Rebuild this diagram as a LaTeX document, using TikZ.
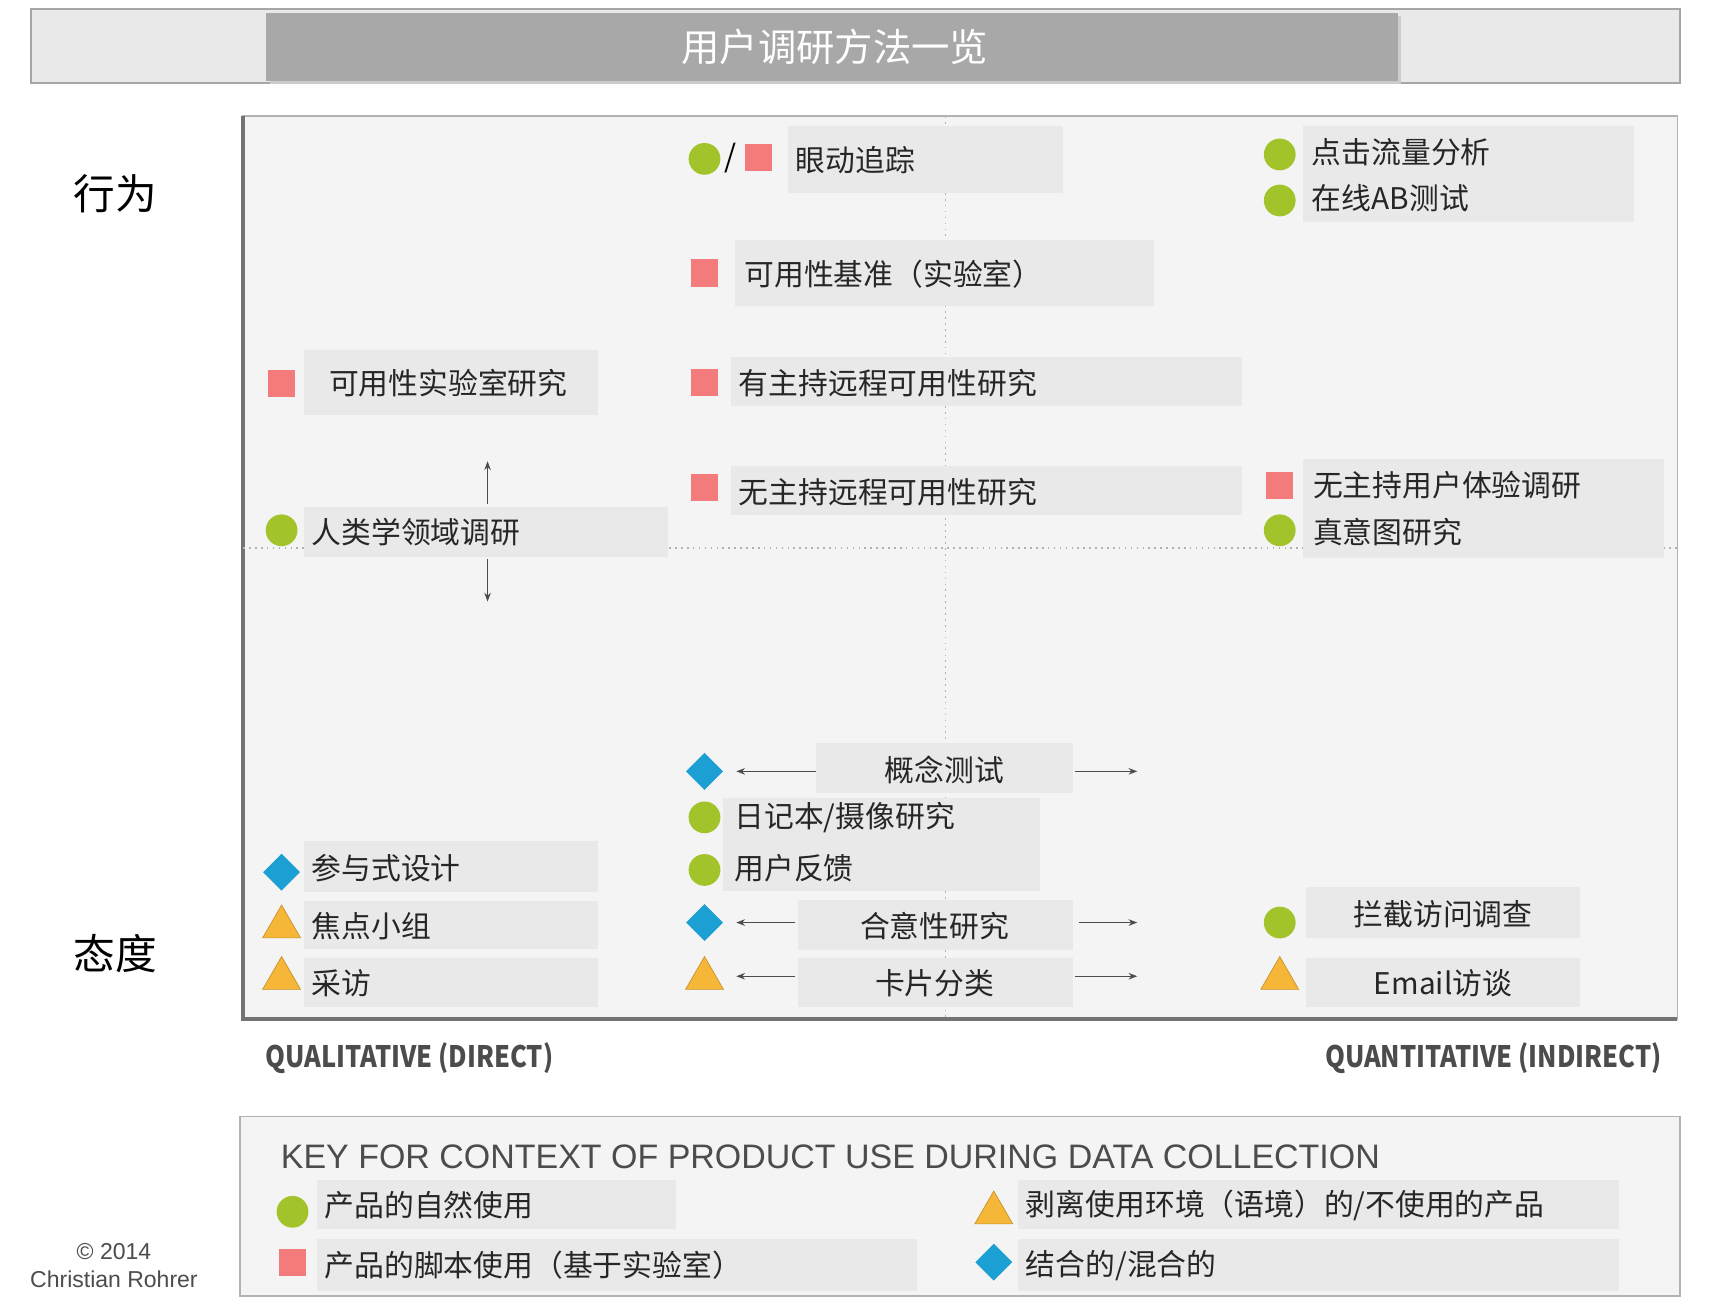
\documentclass[tikz,border=0pt]{standalone}
\usepackage{fontspec}
\setmainfont{Noto Sans CJK SC}
\newfontfamily\lsans{Liberation Sans}
\usetikzlibrary{shapes.geometric,arrows.meta}
\definecolor{gr}{HTML}{A2C42A}
\definecolor{rd}{HTML}{F47B7B}
\definecolor{bl}{HTML}{1C9FD3}
\definecolor{og}{HTML}{F6B637}
\definecolor{bx}{HTML}{E9E9E9}
\definecolor{pn}{HTML}{F4F4F4}
\tikzset{
 lb/.style={anchor=west,inner sep=0pt,font=\fontsize{13.6}{15}\selectfont,text=black!85},
 lc/.style={inner sep=0pt,font=\fontsize{13.6}{15}\selectfont,text=black!85},
 gc/.style={circle,fill=gr,minimum size=14.5pt,inner sep=0pt},
 rs/.style={rectangle,fill=rd,minimum size=12.5pt,inner sep=0pt},
 bd/.style={diamond,fill=bl,minimum size=17pt,inner sep=0pt},
 ot/.style={regular polygon,regular polygon sides=3,fill=og,draw=og!80!black,line width=0.3pt,minimum size=20pt,inner sep=0pt},
 ar/.style={-{Stealth[length=4pt,width=3pt]},line width=0.5pt,black!70},
}
\begin{document}
\begin{tikzpicture}[x=0.5pt,y=-0.5pt]
\useasboundingbox[fill=white] (0,0) rectangle (1568,1192);
% title
\draw[fill=bx,draw=black!35,line width=0.8pt] (28,8) rectangle (1533,76);
\fill[black!20] (246,15) rectangle (1279,77);
\fill[black!34] (243,12) rectangle (1276,74);
\node[text=white,font=\fontsize{17.5}{20}\selectfont] (title) at (762,43) {用户调研方法一览};
% panel
\draw[fill=pn,draw=black!30,line width=0.8pt] (222,106) rectangle (1531,930);
\draw[black!55,line width=1.6pt] (222,106) -- (222,930) -- (1531,930);
\draw[black!30,dotted,line width=0.7pt] (863,106) -- (863,930);
\draw[black!30,dotted,line width=0.7pt] (222,500) -- (1531,500);
\node[font=\fontsize{19}{22}\selectfont] (beh) at (105,177) {行为};
\node[font=\fontsize{19}{22}\selectfont] (att) at (105,870) {态度};
% boxes
\fill[bx] (719,115) rectangle (970,176);
\fill[bx] (1189,115) rectangle (1491,203);
\fill[bx] (671,219) rectangle (1053,279);
\fill[bx] (277,319) rectangle (546,379);
\fill[bx] (667,326) rectangle (1134,371);
\fill[bx] (667,425) rectangle (1134,470);
\fill[bx] (1189,419) rectangle (1519,509);
\fill[bx] (277,463) rectangle (610,508);
\fill[bx] (745,678) rectangle (979,724);
\fill[bx] (660,728) rectangle (949,813);
\fill[bx] (277,768) rectangle (546,814);
\fill[bx] (277,822) rectangle (546,866);
\fill[bx] (277,874) rectangle (546,919);
\fill[bx] (728,821) rectangle (979,867);
\fill[bx] (728,874) rectangle (979,919);
\fill[bx] (1192,810) rectangle (1442,856);
\fill[bx] (1192,874) rectangle (1442,919);
% labels and icons
\node[gc] (i1a) at (643,145) {};
\node[font=\fontsize{14}{16}\selectfont] (sl) at (667,144) {/};
\node[rs] (i1b) at (692,144) {};
\node[lb] (t1) at (726,146) {眼动追踪};
\node[gc] (i2) at (1168,141) {};
\node[lb] (t2) at (1197,139) {点击流量分析};
\node[gc] (i3) at (1168,183) {};
\node[lb] (t3) at (1197,181) {在线AB测试};
\node[rs] (i4) at (643,249) {};
\node[lb] (t4) at (679,250) {可用性基准（实验室）};
\node[rs] (i5) at (257,350) {};
\node[lb] (t5) at (300,350) {可用性实验室研究};
\node[rs] (i6) at (643,349) {};
\node[lb] (t6) at (674,350) {有主持远程可用性研究};
\node[rs] (i7) at (643,445) {};
\node[lb] (t7) at (674,449) {无主持远程可用性研究};
\node[rs] (i8) at (1168,443) {};
\node[lb] (t8) at (1198,443) {无主持用户体验调研};
\node[gc] (i9) at (1168,484) {};
\node[lb] (t9) at (1198,486) {真意图研究};
\node[gc] (i10) at (257,484) {};
\node[lb] (t10) at (284,486) {人类学领域调研};
\coordinate (u1) at (445,460); \coordinate (u2) at (445,421);
\coordinate (d1) at (445,510); \coordinate (d2) at (445,549);
\draw[ar] (u1) -- (u2); \draw[ar] (d1) -- (d2);
\node[bd] (i11) at (643,704) {};
\node[lc] (t11) at (862,703) {概念测试};
\coordinate (a1) at (745,704); \coordinate (a2) at (672,704);
\coordinate (a3) at (981,704); \coordinate (a4) at (1038,704);
\draw[ar] (a1) -- (a2); \draw[ar] (a3) -- (a4);
\node[gc] (i12) at (643,746) {};
\node[lb] (t12) at (670,746) {日记本/摄像研究};
\node[gc] (i13) at (643,794) {};
\node[lb] (t13) at (670,792) {用户反馈};
\node[bd] (i14) at (257,796) {};
\node[lb] (t14) at (284,792) {参与式设计};
\node[ot] (i15) at (257,846) {};
\node[lb] (t15) at (284,845) {焦点小组};
\node[ot] (i16) at (257,893) {};
\node[lb] (t16) at (284,897) {采访};
\node[bd] (i17) at (643,842) {};
\node[lc] (t17) at (853,845) {合意性研究};
\coordinate (b1) at (726,842); \coordinate (b2) at (672,842);
\coordinate (b3) at (985,842); \coordinate (b4) at (1038,842);
\draw[ar] (b1) -- (b2); \draw[ar] (b3) -- (b4);
\node[ot] (i18) at (643,893) {};
\node[lc] (t18) at (853,897) {卡片分类};
\coordinate (c1) at (726,891); \coordinate (c2) at (672,891);
\coordinate (c3) at (981,891); \coordinate (c4) at (1038,891);
\draw[ar] (c1) -- (c2); \draw[ar] (c3) -- (c4);
\node[gc] (i19) at (1168,842) {};
\node[lc] (t19) at (1317,834) {拦截访问调查};
\node[ot] (i20) at (1168,893) {};
\node[lc] (t20) at (1317,897) {Email访谈};
% axis labels
\node[anchor=west,inner sep=0pt,text=black!70,font=\bfseries\fontsize{13.5}{15}\selectfont,xscale=0.86] (ql) at (242,966) {QUALITATIVE (DIRECT)};
\node[anchor=east,inner sep=0pt,text=black!70,font=\bfseries\fontsize{13.5}{15}\selectfont,xscale=0.86] (qn) at (1517,966) {QUANTITATIVE (INDIRECT)};
% key
\draw[fill=pn,draw=black!30,line width=0.8pt] (219,1019) rectangle (1533,1183);
\node[anchor=west,inner sep=0pt,text=black!70,font=\lsans\fontsize{15.5}{18}\selectfont] (kt) at (256,1056) {KEY FOR CONTEXT OF PRODUCT USE DURING DATA COLLECTION};
\fill[bx] (289,1077) rectangle (617,1122);
\fill[bx] (289,1131) rectangle (837,1178);
\fill[bx] (929,1077) rectangle (1478,1122);
\fill[bx] (929,1131) rectangle (1478,1178);
\node[gc] (k1) at (267,1106) {};
\node[lb] (kt1) at (296,1100) {产品的自然使用};
\node[rs] (k2) at (267,1152) {};
\node[lb] (kt2) at (296,1155) {产品的脚本使用（基于实验室）};
\node[ot] (k3) at (907,1107) {};
\node[lb] (kt3) at (936,1100) {剥离使用环境（语境）的/不使用的产品};
\node[bd] (k4) at (907,1152) {};
\node[lb] (kt4) at (936,1155) {结合的/混合的};
\node[text=black!70,font=\lsans\fontsize{10.5}{13}\selectfont,align=center] (cp) at (104,1155) {© 2014\\Christian Rohrer};
\end{tikzpicture}
\end{document}
